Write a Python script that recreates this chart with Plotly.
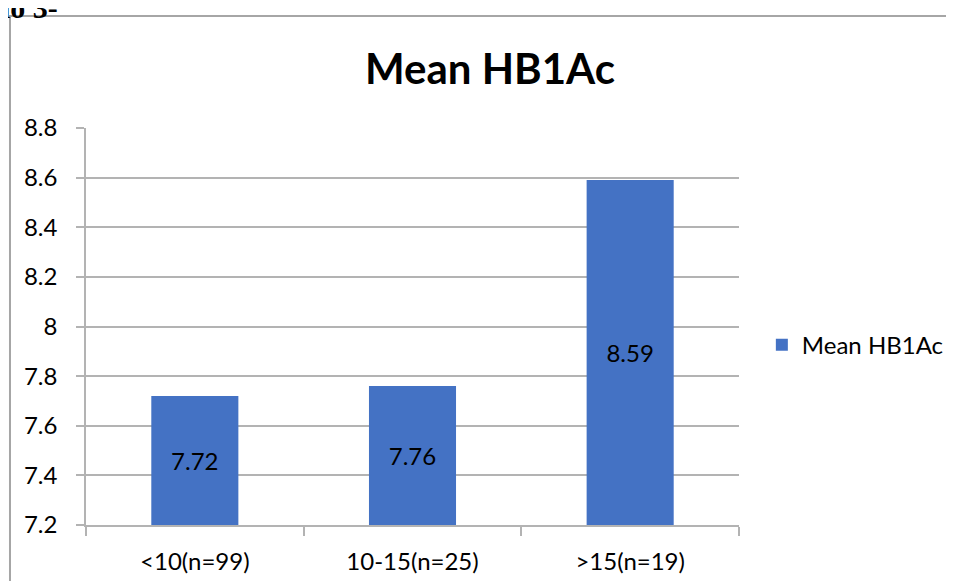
import plotly.graph_objects as go

categories = ["<10(n=99)", "10-15(n=25)", ">15(n=19)"]
mean_hb1ac = [7.72, 7.76, 8.59]
value_labels = ["7.72", "7.76", "8.59"]
y_tick_vals = [7.2, 7.4, 7.6, 7.8, 8.0, 8.2, 8.4, 8.6, 8.8]
y_tick_text = ["7.2", "7.4", "7.6", "7.8", "8", "8.2", "8.4", "8.6", "8.8"]
Y_BASE = 7.2

FONT = "Lato"
GRID = "#b3b3b3"
FS = 24

fig = go.Figure()
fig.add_trace(go.Bar(
    x=categories, y=[v - Y_BASE for v in mean_hb1ac], base=Y_BASE,
    name="Mean HB1Ac",
    marker=dict(color="#4472C4", line=dict(width=0)),
    width=0.4,
    text=value_labels, textposition="inside", insidetextanchor="middle",
    textfont=dict(family=FONT, size=FS, color="black"),
    cliponaxis=False,
))

# page body has an 8px margin: shift figure margins to compensate
fig.update_layout(
    width=954, height=581,
    margin=dict(l=78, r=223, t=120, b=64),
    paper_bgcolor="white", plot_bgcolor="white",
    font=dict(family=FONT, size=FS, color="black"),
    showlegend=True,
    legend=dict(x=1.035, y=0.453, xanchor="left", yanchor="middle",
                font=dict(family=FONT, size=FS, color="black"),
                itemwidth=30, bgcolor="rgba(0,0,0,0)"),
)
fig.update_xaxes(
    showline=True, linecolor=GRID, linewidth=1.5,
    ticks="outside", tickson="boundaries", ticklen=9, tickcolor=GRID, tickwidth=1.5,
    ticklabelstandoff=14,
    tickfont=dict(family=FONT, size=FS, color="black"),
    showgrid=False,
)
fig.update_yaxes(
    range=[7.2, 8.8],
    tickvals=y_tick_vals, ticktext=y_tick_text,
    showline=True, linecolor=GRID, linewidth=1.5,
    ticks="outside", ticklen=8, tickcolor=GRID, tickwidth=1.5,
    ticklabelstandoff=14,
    showgrid=True, gridcolor=GRID, gridwidth=1.5,
    zeroline=False,
    tickfont=dict(family=FONT, size=FS, color="black"),
)

fig.add_annotation(
    text="<b>Mean HB1Ac</b>", xref="paper", yref="paper",
    x=0.6187, y=1.151, xanchor="center", yanchor="middle",
    showarrow=False, font=dict(family=FONT, size=42, color="black"),
)
fig.add_annotation(
    text="<b>io 3-</b>", xref="paper", yref="paper",
    x=-0.1318, y=1.258, xanchor="left", yanchor="bottom",
    showarrow=False, font=dict(family="Liberation Serif", size=30, color="black"),
)
fig.add_shape(
    type="rect", xref="paper", yref="paper",
    x0=-0.1164, y0=-0.3, x1=1.5, y1=1.282,
    line=dict(color="#a6a6a6", width=2), fillcolor="rgba(0,0,0,0)", layer="below",
)

fig.write_html("out.html")
